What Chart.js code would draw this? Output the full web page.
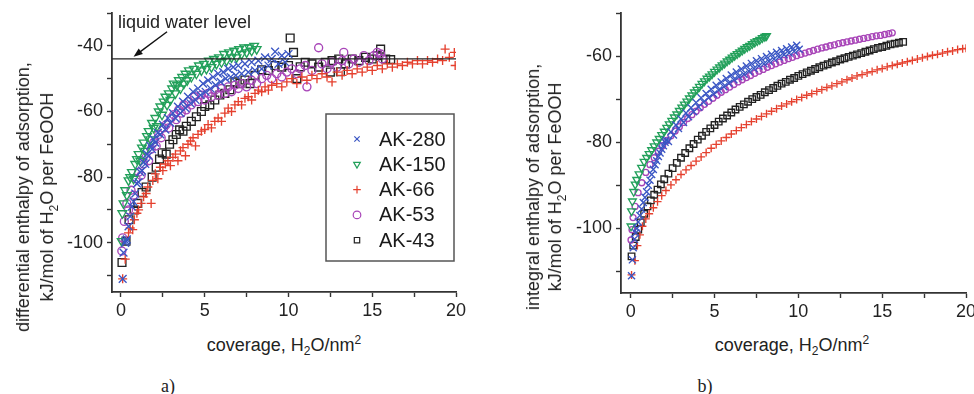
<!DOCTYPE html>
<html>
<head>
<meta charset="utf-8">
<script src="https://cdn.jsdelivr.net/npm/chart.js@4"></script>
<style>
    body { margin: 0; background: #fff; width: 974px; height: 394px; position: relative; overflow: hidden; font-family: "Liberation Sans", Arial, sans-serif; color: #222; }
    #chartA { position: absolute; left: 0; top: 0; }
    #chartB { position: absolute; left: 490px; top: 0; }
    .ytitle { position: absolute; transform: translate(-50%, -50%) rotate(-90deg); white-space: nowrap; text-align: center; font-size: 18px; }
    .xtitle { position: absolute; transform: translate(-50%, -50%); white-space: nowrap; font-size: 18px; }
    .caption { position: absolute; transform: translate(-50%, -50%); font-family: "Liberation Serif", "Times New Roman", serif; font-size: 18px; }
    sub, sup { font-size: 12px; line-height: 0; }
</style>
</head>
<body>
<canvas id="chartA" width="480" height="320"></canvas>
<canvas id="chartB" width="484" height="320"></canvas>

<div class="ytitle" style="left:35px;top:197px;line-height:24px">differential enthalpy of adsorption,<br>kJ/mol of H<sub>2</sub>O per FeOOH</div>
<div class="xtitle" style="left:284px;top:345px">coverage, H<sub>2</sub>O/nm<sup>2</sup></div>
<div class="caption" style="left:168px;top:386px">a)</div>

<div class="ytitle" style="left:544px;top:187px;line-height:22px">integral enthalpy of adsorption,<br>kJ/mol of H<sub>2</sub>O per FeOOH</div>
<div class="xtitle" style="left:792px;top:345px">coverage, H<sub>2</sub>O/nm<sup>2</sup></div>
<div class="caption" style="left:705px;top:386px">b)</div>

<script>
// series names
var seriesNames = ['AK-280', 'AK-150', 'AK-66', 'AK-53', 'AK-43'];

// a) differential enthalpy, [coverage, kJ/mol]
var diff280 = [[0.1,-111],[0.15,-103],[0.25,-100],[0.3,-99.5],[0.35,-99],[0.45,-95],[0.55,-92],[0.65,-89],[0.75,-87.5],[0.85,-85],[0.95,-82],[1.05,-81.5],[1.15,-78.5],[1.25,-78],[1.35,-75.5],[1.45,-76],[1.55,-73],[1.65,-73.5],[1.75,-70.5],[1.85,-71.5],[1.95,-68.5],[2.05,-69.5],[2.2,-66.5],[2.35,-67],[2.5,-64],[2.65,-65.5],[2.8,-62],[2.95,-63.5],[3.1,-60.5],[3.25,-62],[3.4,-58.5],[3.55,-60.5],[3.7,-57],[3.85,-59],[4.0,-55.5],[4.15,-57.5],[4.3,-54],[4.45,-56.5],[4.6,-53],[4.75,-55],[4.9,-51.5],[5.05,-54],[5.2,-50.5],[5.35,-53],[5.5,-49.5],[5.65,-52],[5.8,-48.5],[5.95,-51],[6.1,-48],[6.25,-50],[6.4,-47],[6.55,-49.5],[6.7,-46.5],[6.85,-49],[7.0,-46],[7.2,-48.5],[7.4,-45.5],[7.6,-48],[7.8,-45],[8.0,-47.5],[8.2,-44.5],[8.4,-47],[8.6,-43.5],[8.8,-46],[9.0,-44],[9.2,-41.8],[9.4,-45.5],[9.6,-43],[9.8,-45],[10.0,-42.5]];
var diff150 = [[0.04,-99.5],[0.08,-91],[0.15,-88],[0.25,-84],[0.35,-85.5],[0.45,-81],[0.55,-80],[0.65,-78.5],[0.75,-80.5],[0.85,-76],[0.95,-74.5],[1.05,-73],[1.15,-75],[1.25,-71],[1.35,-69.5],[1.45,-72],[1.55,-67.5],[1.65,-66],[1.75,-68.5],[1.85,-63.5],[1.95,-65],[2.05,-62],[2.15,-64.5],[2.25,-60],[2.35,-58.5],[2.45,-61],[2.55,-57],[2.65,-55.5],[2.75,-58],[2.85,-54.5],[2.95,-56.5],[3.05,-53],[3.15,-51.5],[3.25,-54.5],[3.35,-52],[3.45,-50.5],[3.55,-53],[3.65,-49.5],[3.75,-51.5],[3.85,-48.5],[3.95,-50.5],[4.05,-47.5],[4.2,-49.5],[4.35,-47],[4.5,-48.5],[4.65,-46],[4.8,-47.5],[4.95,-45.5],[5.1,-47],[5.25,-44.5],[5.4,-46.5],[5.55,-44],[5.7,-45.5],[5.85,-43.5],[6.0,-45],[6.15,-42.5],[6.3,-44.5],[6.45,-42],[6.6,-43.5],[6.75,-41.5],[6.9,-43.5],[7.05,-41],[7.2,-42.5],[7.35,-40.5],[7.5,-42],[7.65,-40.5],[7.8,-41.5],[7.95,-40],[8.1,-41]];
var diff66 = [[0.1,-111],[0.25,-105],[0.45,-97],[0.55,-95.5],[0.7,-96],[0.8,-93],[0.95,-91],[1.05,-90],[1.2,-88],[1.35,-86],[1.5,-85],[1.6,-83],[1.8,-88],[1.9,-81],[2.05,-79],[2.2,-80.5],[2.35,-77],[2.5,-78],[2.65,-76],[2.8,-75],[2.95,-76.5],[3.1,-74],[3.25,-73],[3.4,-75],[3.55,-72],[3.7,-71],[3.85,-73.5],[4.0,-70],[4.15,-69],[4.3,-68],[4.45,-70.5],[4.6,-67],[4.8,-66],[5.0,-65.5],[5.2,-64],[5.4,-65],[5.6,-63],[5.8,-62],[6.0,-63],[6.2,-60.5],[6.4,-59],[6.6,-60],[6.8,-58],[7.0,-57],[7.2,-58],[7.4,-56],[7.6,-55.5],[7.8,-56.5],[8.0,-54.5],[8.2,-53.5],[8.4,-54],[8.6,-52.5],[8.8,-53.5],[9.0,-52],[9.3,-51.5],[9.6,-52.5],[9.9,-51],[10.2,-50],[10.5,-51.5],[10.8,-49.5],[11.1,-50.5],[11.4,-49],[11.7,-50],[12.0,-48.5],[12.3,-49.5],[12.6,-51],[12.9,-48],[13.2,-49],[13.5,-47.5],[13.8,-48.5],[14.1,-47],[14.4,-48],[14.7,-46.5],[15.0,-47.5],[15.3,-46],[15.6,-47],[15.9,-45.5],[16.2,-46.5],[16.5,-45.5],[16.8,-46],[17.1,-45],[17.4,-45.5],[17.7,-44.5],[18.0,-45.5],[18.3,-44.5],[18.6,-45],[18.9,-44],[19.2,-44.5],[19.35,-41],[19.6,-43.5],[19.9,-42],[19.95,-46]];
var diff53 = [[0.05,-102.5],[0.1,-98.5],[0.2,-93.5],[0.35,-88],[0.45,-90],[0.6,-84],[0.75,-85.5],[0.9,-80.5],[1.05,-78.5],[1.2,-79.5],[1.35,-76],[1.5,-74],[1.65,-75],[1.8,-71.5],[1.95,-69.5],[2.1,-70.5],[2.25,-67],[2.4,-68],[2.55,-65],[2.7,-64],[2.85,-65],[3.0,-62],[3.15,-61],[3.3,-62.5],[3.45,-59.5],[3.6,-60.5],[3.75,-58],[3.9,-59.5],[4.05,-57],[4.2,-58],[4.4,-55.5],[4.6,-57],[4.8,-55],[5.0,-56.5],[5.2,-54.5],[5.4,-55.5],[5.6,-53.5],[5.8,-55],[6.0,-53],[6.2,-54.5],[6.4,-52.5],[6.6,-54],[6.8,-52],[7.0,-53],[7.2,-51.5],[7.5,-52.5],[7.8,-50.5],[8.1,-51.5],[8.4,-50],[8.7,-49],[9.0,-50],[9.3,-48.5],[9.6,-49.5],[9.9,-48],[10.2,-47],[10.5,-48.5],[10.7,-47],[11.0,-46],[11.1,-52.5],[11.4,-47.5],[11.8,-40.6],[12.0,-45.5],[12.3,-47],[12.6,-45],[12.9,-46.5],[13.2,-44.5],[13.3,-42],[13.6,-45.5],[13.9,-44],[14.2,-45],[14.5,-43],[14.8,-44.5],[15.1,-43],[15.3,-42],[15.5,-42.5],[15.6,-44]];
var diff43 = [[0.06,-106],[0.3,-99.5],[0.48,-93],[0.78,-90],[1.0,-88],[1.26,-84.7],[1.5,-83],[1.86,-80],[2.1,-77],[2.3,-74.5],[2.46,-72.6],[2.7,-73],[2.9,-70],[3.1,-68.6],[3.3,-67],[3.5,-65.6],[3.7,-66],[3.9,-64.5],[4.2,-63],[4.5,-61.6],[4.8,-60],[5.0,-58.5],[5.3,-58],[5.6,-56.5],[5.9,-55],[6.2,-54.5],[6.5,-53.4],[6.8,-51],[7.1,-51.5],[7.4,-50.4],[7.7,-51.5],[8.0,-49],[8.4,-47.3],[8.8,-47.5],[9.2,-46],[9.6,-46.5],[10.0,-46],[10.1,-37.6],[10.3,-42],[10.5,-50],[10.7,-46.4],[11.0,-45],[11.4,-45.5],[11.8,-46.5],[12.2,-45],[12.5,-48],[12.6,-44.5],[13.0,-44],[13.1,-47.9],[13.4,-45.5],[13.8,-44],[14.2,-44.5],[14.6,-43.5],[15.0,-44],[15.3,-43],[15.5,-41],[15.8,-44],[16.1,-44.2]];
var waterLevel = -44;

// b) integral enthalpy, [coverage, kJ/mol]
var int280 = [[0.05,-111],[0.1,-107.3],[0.15,-104.5],[0.22,-102.5],[0.3,-101],[0.37,-100],[0.45,-98.5],[0.55,-97],[0.65,-95.5],[0.75,-94],[0.85,-92.8],[0.95,-91.5],[1.05,-90],[1.15,-88.8],[1.25,-87.5],[1.35,-86.3],[1.45,-85.2],[1.55,-84.3],[1.65,-83.3],[1.75,-82.5],[1.85,-81.6],[1.95,-80.8],[2.05,-80],[2.1,-79.5],[2.25,-79.8],[2.4,-77.6],[2.55,-78.3],[2.7,-76.0],[2.85,-76.8],[3.0,-74.6],[3.15,-75.4],[3.3,-73.2],[3.45,-74.1],[3.6,-72.0],[3.75,-72.9],[3.9,-70.8],[4.05,-71.8],[4.2,-69.7],[4.35,-70.7],[4.5,-68.7],[4.65,-69.7],[4.8,-67.7],[4.95,-68.8],[5.1,-66.8],[5.25,-67.9],[5.4,-66.0],[5.55,-67.1],[5.7,-65.2],[5.85,-66.3],[6.0,-64.4],[6.15,-65.5],[6.3,-63.7],[6.45,-64.8],[6.6,-63.0],[6.75,-64.2],[6.9,-62.3],[7.05,-63.5],[7.2,-61.7],[7.35,-62.9],[7.5,-61.1],[7.65,-62.3],[7.8,-60.6],[7.95,-61.8],[8.1,-60.1],[8.25,-61.2],[8.4,-59.6],[8.55,-60.7],[8.7,-59.1],[8.85,-60.2],[9.0,-58.7],[9.15,-59.7],[9.3,-58.3],[9.45,-59.3],[9.6,-57.9],[9.75,-58.9],[9.9,-57.5],[10.05,-58.4]];
var int150 = [[0.02,-99.5],[0.05,-96],[0.1,-93.7],[0.18,-91.5],[0.27,-89.8],[0.36,-88.7],[0.5,-87.4],[0.65,-85.9],[0.8,-84.5],[0.95,-83.6],[1.1,-82.7],[1.25,-81.8],[1.4,-80.9],[1.55,-80.0],[1.7,-79.2],[1.85,-78.3],[2.0,-77.5],[2.15,-76.6],[2.3,-75.8],[2.45,-75.0],[2.6,-74.2],[2.75,-73.5],[2.9,-72.7],[3.05,-71.9],[3.2,-71.2],[3.35,-70.5],[3.5,-69.8],[3.65,-69.1],[3.8,-68.4],[3.95,-67.8],[4.1,-67.1],[4.25,-66.4],[4.4,-65.8],[4.55,-65.2],[4.7,-64.7],[4.85,-64.2],[5.0,-63.6],[5.15,-63.1],[5.3,-62.6],[5.45,-62.1],[5.6,-61.7],[5.75,-61.2],[5.9,-60.8],[6.05,-60.3],[6.2,-59.9],[6.35,-59.5],[6.5,-59.1],[6.65,-58.7],[6.8,-58.3],[6.95,-57.9],[7.1,-57.6],[7.25,-57.2],[7.4,-56.8],[7.55,-56.5],[7.7,-56.2],[7.85,-55.8],[8.0,-55.5],[8.1,-55.3]];
var int66 = [[0.05,-110.8],[0.25,-107.5],[0.4,-104],[0.55,-101.5],[0.7,-99.5],[0.9,-97.8],[1.1,-96.6],[1.35,-95.2],[1.6,-93.8],[1.85,-92.4],[2.1,-91.2],[2.4,-89.9],[2.7,-88.7],[3.0,-87.5],[3.3,-86.4],[3.6,-85.4],[3.9,-84.4],[4.2,-83.4],[4.5,-82.4],[4.8,-81.4],[5.1,-80.5],[5.4,-79.7],[5.7,-78.9],[6.0,-78.1],[6.3,-77.3],[6.6,-76.6],[6.9,-75.9],[7.2,-75.2],[7.5,-74.6],[7.8,-74.0],[8.1,-73.4],[8.4,-72.8],[8.7,-72.2],[9.0,-71.6],[9.3,-71.1],[9.6,-70.6],[9.9,-70.1],[10.2,-69.6],[10.5,-69.1],[10.8,-68.7],[11.1,-68.2],[11.4,-67.8],[11.7,-67.3],[12.0,-66.9],[12.3,-66.4],[12.6,-66.0],[12.9,-65.5],[13.2,-65.1],[13.5,-64.6],[13.8,-64.3],[14.1,-63.9],[14.4,-63.6],[14.7,-63.2],[15.0,-62.9],[15.3,-62.5],[15.6,-62.2],[15.9,-61.9],[16.2,-61.6],[16.5,-61.3],[16.8,-61.0],[17.1,-60.7],[17.4,-60.4],[17.7,-60.1],[18.0,-59.8],[18.3,-59.6],[18.6,-59.3],[18.9,-59.0],[19.2,-58.8],[19.5,-58.5],[19.8,-58.3],[20.0,-58.2]];
var int53 = [[0.02,-102.7],[0.08,-100.3],[0.14,-97.5],[0.26,-94.9],[0.44,-91.7],[0.66,-89.4],[0.9,-87],[1.15,-85.2],[1.4,-83.6],[1.65,-82.1],[1.9,-80.8],[2.15,-79.6],[2.4,-78.5],[2.65,-77.4],[2.9,-76.4],[3.15,-75.4],[3.4,-74.5],[3.65,-73.6],[3.9,-72.8],[4.15,-72.0],[4.4,-71.2],[4.65,-70.5],[4.9,-69.8],[5.15,-69.1],[5.4,-68.4],[5.65,-67.8],[5.9,-67.2],[6.15,-66.6],[6.4,-66.0],[6.65,-65.5],[6.9,-65.0],[7.15,-64.5],[7.4,-64.0],[7.65,-63.5],[7.9,-63.1],[8.15,-62.6],[8.4,-62.2],[8.65,-61.8],[8.9,-61.4],[9.15,-61.0],[9.4,-60.6],[9.65,-60.3],[9.9,-59.9],[10.15,-59.6],[10.4,-59.3],[10.65,-59.0],[10.9,-58.7],[11.15,-58.4],[11.4,-58.1],[11.65,-57.9],[11.9,-57.6],[12.15,-57.4],[12.4,-57.1],[12.65,-56.9],[12.9,-56.7],[13.15,-56.5],[13.4,-56.3],[13.65,-56.1],[13.9,-55.9],[14.15,-55.7],[14.4,-55.5],[14.65,-55.3],[14.9,-55.2],[15.15,-55.0],[15.4,-54.8],[15.6,-54.6]];
var int43 = [[0.05,-106.5],[0.15,-104],[0.3,-102],[0.45,-100.3],[0.6,-98.6],[0.8,-96.6],[1.0,-94.9],[1.2,-93.5],[1.4,-92.2],[1.6,-91],[1.8,-89.8],[2.0,-88.6],[2.25,-87.3],[2.5,-86],[2.75,-84.8],[3.0,-83.6],[3.25,-82.5],[3.5,-81.4],[3.75,-80.4],[4.0,-79.4],[4.25,-78.5],[4.5,-77.6],[4.75,-76.8],[5.0,-76.0],[5.25,-75.2],[5.5,-74.5],[5.75,-73.8],[6.0,-73.1],[6.25,-72.4],[6.5,-71.8],[6.75,-71.2],[7.0,-70.6],[7.25,-70.0],[7.5,-69.5],[7.75,-69.0],[8.0,-68.4],[8.25,-67.9],[8.5,-67.4],[8.75,-66.9],[9.0,-66.4],[9.25,-66.0],[9.5,-65.5],[9.75,-65.1],[10.0,-64.6],[10.25,-64.2],[10.5,-63.8],[10.75,-63.4],[11.0,-63.0],[11.25,-62.6],[11.5,-62.2],[11.75,-61.9],[12.0,-61.5],[12.25,-61.2],[12.5,-60.8],[12.75,-60.5],[13.0,-60.2],[13.25,-59.9],[13.5,-59.6],[13.75,-59.3],[14.0,-59.0],[14.25,-58.7],[14.5,-58.4],[14.75,-58.1],[15.0,-57.9],[15.25,-57.6],[15.5,-57.3],[15.75,-57.1],[16.0,-56.9],[16.25,-56.7]];

// tick labels
var xLabels = [0, 5, 10, 15, 20];
var diffYLabels = [-100, -80, -60, -40];
var intYLabels = [-100, -80, -60];

var styles = [
    { color: '#3a56c4', pointStyle: 'crossRot', rotation: 0 },
    { color: '#22a05a', pointStyle: 'triangle', rotation: 180 },
    { color: '#e5402e', pointStyle: 'cross', rotation: 0 },
    { color: '#a845b8', pointStyle: 'circle', rotation: 0 },
    { color: '#222222', pointStyle: 'rect', rotation: 0 }
];

var toXY = function (arr) {
    return arr.map(function (p) { return { x: p[0], y: p[1] }; });
};

var makeDatasets = function (series, radii) {
    return series.map(function (s, i) {
        return {
            label: seriesNames[i],
            data: toXY(s),
            showLine: false,
            pointStyle: styles[i].pointStyle,
            pointRotation: styles[i].rotation,
            pointRadius: radii[i],
            pointBorderColor: styles[i].color,
            pointBackgroundColor: 'rgba(0,0,0,0)',
            pointBorderWidth: 1.35,
            borderColor: styles[i].color
        };
    });
};

var tickFont = { family: '"Liberation Sans", Arial, sans-serif', size: 18 };

var makeOptions = function (xMin, yMin, yMax, yLabels, yWidth, xHeight, pad) {
    return {
        responsive: false,
        animation: false,
        layout: { padding: pad },
        plugins: { legend: { display: false }, tooltip: { enabled: false } },
        scales: {
            x: {
                type: 'linear',
                min: xMin,
                max: 20,
                ticks: {
                    stepSize: 2.5,
                    includeBounds: false,
                    maxRotation: 0,
                    autoSkip: false,
                    padding: 3,
                    color: '#222',
                    font: tickFont,
                    callback: function (v) { return xLabels.indexOf(v) >= 0 ? String(v) : ''; }
                },
                grid: { drawOnChartArea: false, drawTicks: true, tickLength: 5, color: '#333', tickWidth: 1.4 },
                border: { display: true, color: '#333', width: 1.8 },
                afterFit: function (scale) { scale.height = xHeight; scale.paddingLeft = 0; scale.paddingRight = 0; }
            },
            y: {
                type: 'linear',
                min: yMin,
                max: yMax,
                ticks: {
                    stepSize: 10,
                    includeBounds: false,
                    autoSkip: false,
                    padding: 4,
                    color: '#222',
                    font: tickFont,
                    callback: function (v) { return yLabels.indexOf(v) >= 0 ? String(v) : ''; }
                },
                grid: { drawOnChartArea: false, drawTicks: true, tickLength: 5, color: '#333', tickWidth: 1.4 },
                border: { display: true, color: '#333', width: 1.8 },
                afterFit: function (scale) { scale.width = yWidth; scale.paddingTop = 0; scale.paddingBottom = 0; }
            }
        }
    };
};

// simple marker, same shapes as the chart points
var drawMarker = function (ctx, style, x, y, r, color) {
    ctx.save();
    ctx.strokeStyle = color;
    ctx.lineWidth = 1.2;
    ctx.beginPath();
    if (style === 'crossRot') {
        var d = r * Math.SQRT1_2;
        ctx.moveTo(x - d, y - d); ctx.lineTo(x + d, y + d);
        ctx.moveTo(x + d, y - d); ctx.lineTo(x - d, y + d);
    } else if (style === 'cross') {
        ctx.moveTo(x - r, y); ctx.lineTo(x + r, y);
        ctx.moveTo(x, y - r); ctx.lineTo(x, y + r);
    } else if (style === 'triangle') {
        ctx.moveTo(x, y + r);
        ctx.lineTo(x - r * 0.866, y - r * 0.5);
        ctx.lineTo(x + r * 0.866, y - r * 0.5);
        ctx.closePath();
    } else if (style === 'circle') {
        ctx.arc(x, y, r, 0, Math.PI * 2);
    } else {
        var s = r * Math.SQRT1_2;
        ctx.rect(x - s, y - s, 2 * s, 2 * s);
    }
    ctx.stroke();
    ctx.restore();
};

// legend box + "liquid water level" note on chart a
var noteLegendPlugin = {
    id: 'noteLegend',
    afterDatasetsDraw: function (chart) {
        var ctx = chart.ctx;
        var area = chart.chartArea;
        var xs = chart.scales.x, ys = chart.scales.y;

        // arrow to the water line
        var x1 = xs.getPixelForValue(2.75), y1 = ys.getPixelForValue(-35.7);
        var x2 = xs.getPixelForValue(0.75), y2 = ys.getPixelForValue(-43.3);
        var ang = Math.atan2(y2 - y1, x2 - x1);
        ctx.save();
        ctx.strokeStyle = '#111';
        ctx.fillStyle = '#111';
        ctx.lineWidth = 1.4;
        ctx.beginPath();
        ctx.moveTo(x1, y1);
        ctx.lineTo(x2 - Math.cos(ang) * 6, y2 - Math.sin(ang) * 6);
        ctx.stroke();
        ctx.beginPath();
        ctx.moveTo(x2, y2);
        ctx.lineTo(x2 - Math.cos(ang) * 9 + Math.sin(ang) * 3.5, y2 - Math.sin(ang) * 9 - Math.cos(ang) * 3.5);
        ctx.lineTo(x2 - Math.cos(ang) * 9 - Math.sin(ang) * 3.5, y2 - Math.sin(ang) * 9 + Math.cos(ang) * 3.5);
        ctx.closePath();
        ctx.fill();

        ctx.font = '18px "Liberation Sans", Arial, sans-serif';
        ctx.fillStyle = '#222';
        ctx.textBaseline = 'middle';
        ctx.textAlign = 'left';
        ctx.fillText('liquid water level', area.left + 6, 23);

        // legend
        var bx = area.right - 130, by = area.top + 101;
        ctx.fillStyle = '#fff';
        ctx.fillRect(bx, by, 128, 147);
        ctx.strokeStyle = '#555';
        ctx.lineWidth = 1.5;
        ctx.strokeRect(bx, by, 128, 147);
        ctx.font = '20px "Liberation Sans", Arial, sans-serif';
        ctx.fillStyle = '#1a1a1a';
        seriesNames.forEach(function (name, i) {
            var ry = by + 25 + i * 25.3;
            drawMarker(ctx, styles[i].pointStyle, bx + 31, ry, 3.8, styles[i].color);
            ctx.fillText(name, bx + 53, ry + 1);
        });
        ctx.restore();
    }
};

window.onload = function () {
    // a) differential
    var dsA = makeDatasets([diff280, diff150, diff66, diff53, diff43], [5.5, 5, 4.5, 4, 5.5]);
    dsA.unshift({
        label: 'water',
        data: [{ x: -0.537, y: waterLevel }, { x: 20, y: waterLevel }],
        showLine: true,
        borderColor: '#222',
        borderWidth: 1.3,
        pointRadius: 0,
        clip: false
    });
    new Chart(document.getElementById('chartA').getContext('2d'), {
        type: 'scatter',
        data: { datasets: dsA },
        options: makeOptions(-0.537, -115, -30, diffYLabels, 112, 28, { top: 13, right: 24, bottom: 0, left: 0 }),
        plugins: [noteLegendPlugin]
    });

    // b) integral
    var dsB = makeDatasets([int280, int150, int66, int53, int43], [5, 4.5, 4, 3, 4.6]);
    new Chart(document.getElementById('chartB').getContext('2d'), {
        type: 'scatter',
        data: { datasets: dsB },
        options: makeOptions(-0.579, -115, -50, intYLabels, 131, 27, { top: 13, right: 8, bottom: 0, left: 0 })
    });
};
</script>
</body>
</html>
